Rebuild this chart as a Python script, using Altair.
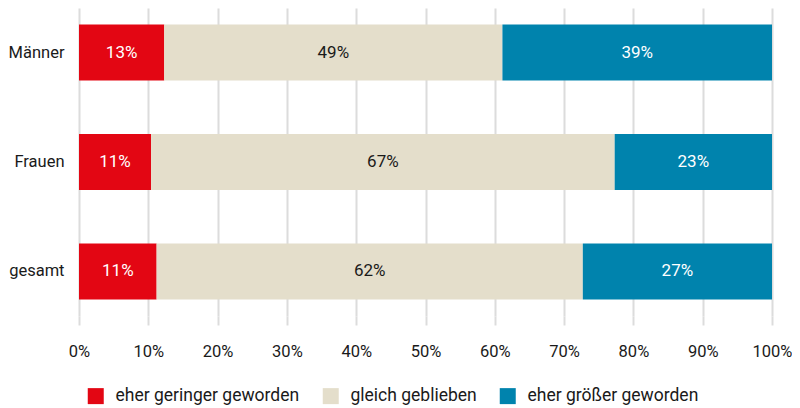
import altair as alt
import pandas as pd

categories = ["Männer", "Frauen", "gesamt"]
series = ["eher geringer geworden", "gleich geblieben", "eher größer geworden"]
colors = ["#E30613", "#E4DECB", "#0083AD"]

geringer = [12.3, 10.4, 11.2]
gleich = [48.8, 66.9, 61.5]
groesser = [38.9, 22.7, 27.3]

label_geringer = ["13%", "11%", "11%"]
label_gleich = ["49%", "67%", "62%"]
label_groesser = ["39%", "23%", "27%"]

x_ticks = [0, 10, 20, 30, 40, 50, 60, 70, 80, 90, 100]

rows = []
for i, c in enumerate(categories):
    for j, (s, vals, labs) in enumerate(
        zip(series, [geringer, gleich, groesser], [label_geringer, label_gleich, label_groesser])
    ):
        rows.append({"cat": c, "series": s, "order": j, "value": vals[i], "label": labs[i]})
df = pd.DataFrame(rows)

FONT = "Roboto"
GRID = "#dcdcdc"
INK = "#1a1a1a"

base = alt.Chart(df).transform_stack(
    stack="value", groupby=["cat"], as_=["x0", "x1"], sort=[alt.SortField("order")]
).transform_calculate(mid="(datum.x0 + datum.x1) / 2")

y_enc = alt.Y(
    "cat:N",
    sort=categories,
    title=None,
    scale=alt.Scale(paddingInner=0.489, paddingOuter=0.151),
    axis=alt.Axis(
        ticks=False, domain=False, labelFont=FONT, labelFontSize=16.5,
        labelColor=INK, labelPadding=15,
    ),
)

bars = base.mark_bar().encode(
    x=alt.X(
        "x0:Q",
        title=None,
        scale=alt.Scale(domain=[0, 100], nice=False, zero=True),
        axis=alt.Axis(
            values=x_ticks, labelExpr="datum.value + '%'", grid=True, gridColor=GRID,
            gridWidth=2, tickColor=GRID, tickWidth=2, tickSize=9, domain=False,
            labelFont=FONT, labelFontSize=16.5, labelColor=INK, labelPadding=18,
            labelFlush=False,
        ),
    ),
    x2="x1:Q",
    y=y_enc,
    color=alt.Color(
        "series:N",
        scale=alt.Scale(domain=series, range=colors),
        legend=alt.Legend(
            title=None, orient="none", legendX=8, legendY=379, direction="horizontal",
            symbolType="square", symbolSize=256, symbolStrokeWidth=0,
            labelFont=FONT, labelFontSize=17.5, labelColor=INK, labelOffset=11,
            columnPadding=22, padding=0, labelLimit=400,
        ),
    ),
)

text = base.mark_text(font=FONT, fontSize=17).encode(
    x=alt.X("mid:Q"),
    y=alt.Y("cat:N", sort=categories),
    text="label:N",
    color=alt.condition("datum.order == 1", alt.value(INK), alt.value("#ffffff")),
)

chart = alt.layer(bars, text).properties(
    width=693,
    height=308,
    padding={"left": 71, "top": 0, "right": 20, "bottom": 92},
    autosize=alt.AutoSizeParams(type="none"),
    background="white",
).configure_view(stroke=None)

chart.save("out.html", embed_options={"renderer": "svg", "actions": False})
